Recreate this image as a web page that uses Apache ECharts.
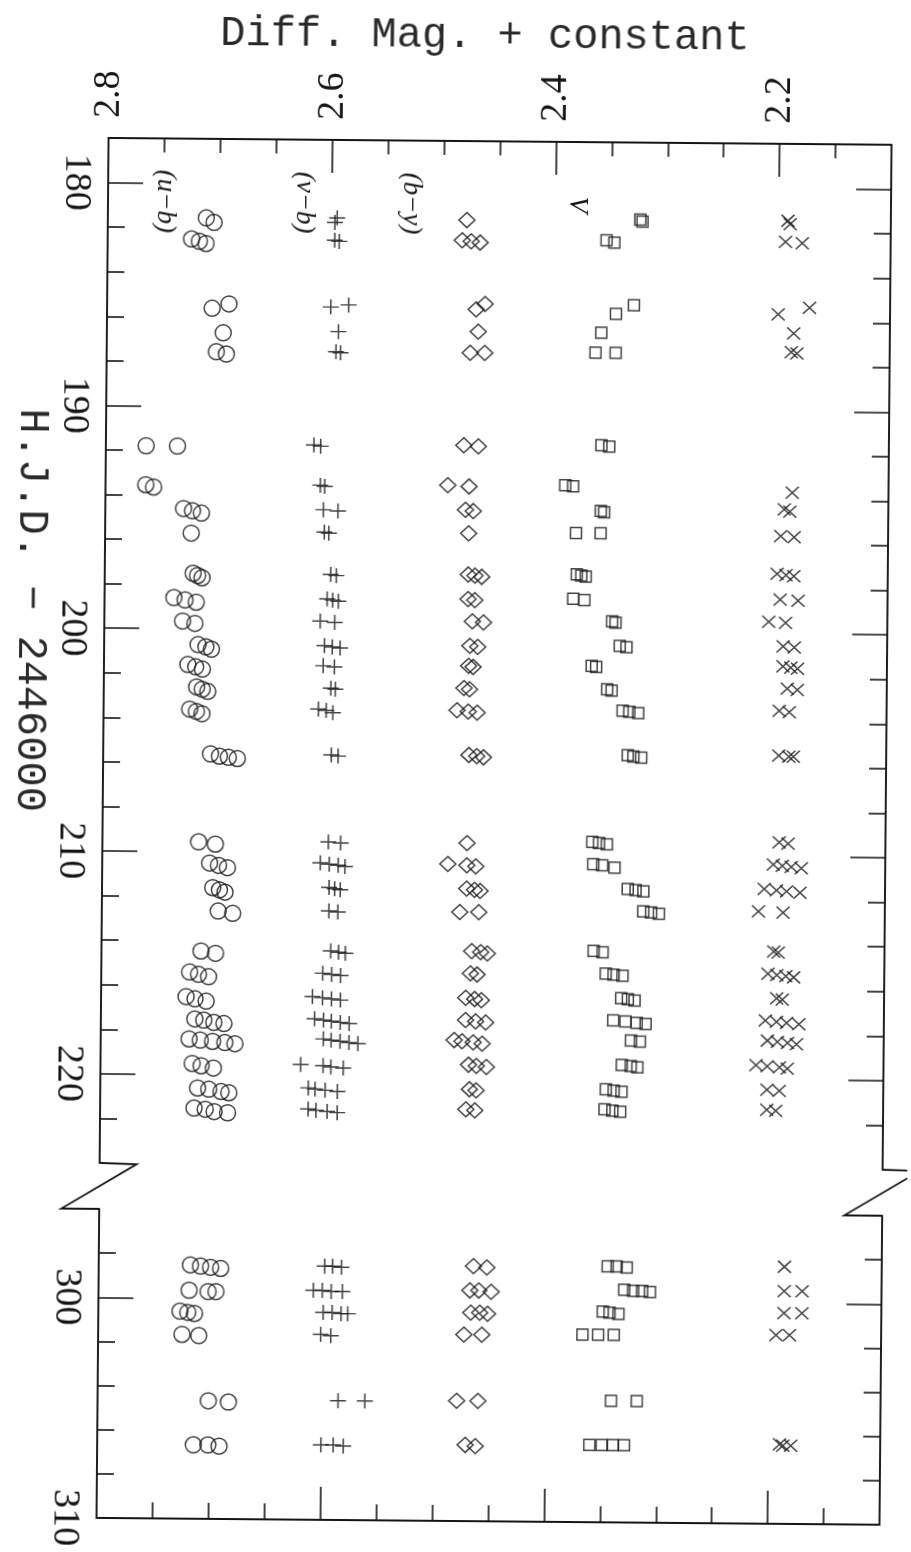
<!DOCTYPE html>
<html>
<head>
<meta charset="utf-8">
<script src="https://cdn.jsdelivr.net/npm/echarts@6/dist/echarts.min.js"></script>
<style>
  html, body { margin: 0; padding: 0; background: #fff; overflow: hidden; }
  #chart { width: 911px; height: 1552px; transform: rotate(0.5deg); transform-origin: 50% 50%; }
</style>
</head>
<body>
<div id="chart"></div>
<script>
// Axis tick labels
const magTickLabels = [2.2, 2.4, 2.6, 2.8];
const dayTickLabelsEarly = [180, 190, 200, 210, 220];
const dayTickLabelsLate = [300, 310];

// Colour-index and magnitude tags drawn beside each column
const seriesTags = ['(u\u2212b)', '(v\u2212b)', '(b\u2212y)', 'V'];
const tagMags = [2.749, 2.625, 2.529, 2.381];
const tagDay = 180.82;

// Observations: [H.J.D. - 2446000, differential magnitude + constant]
const ubObs = [
  [181.55,2.712],[181.75,2.705],
  [182.5,2.725],[182.6,2.718],[182.7,2.712],
  [185.4,2.691],[185.6,2.706],
  [186.7,2.696],
  [187.55,2.702],[187.65,2.693],
  [191.8,2.764],[191.8,2.736],
  [193.55,2.764],[193.65,2.757],
  [194.6,2.73],[194.7,2.722],[194.8,2.714],
  [195.7,2.723],
  [197.5,2.721],[197.6,2.717],[197.7,2.713],
  [198.6,2.738],[198.7,2.728],[198.8,2.718],
  [199.65,2.73],[199.75,2.719],
  [200.7,2.716],[200.8,2.709],[200.9,2.704],
  [201.6,2.725],[201.7,2.718],[201.8,2.712],
  [202.6,2.717],[202.7,2.712],[202.8,2.707],
  [203.6,2.723],[203.7,2.717],[203.8,2.712],
  [205.6,2.704],[205.7,2.696],[205.75,2.688],[205.8,2.68],
  [209.55,2.714],[209.65,2.699],
  [210.5,2.704],[210.6,2.696],[210.7,2.688],
  [211.6,2.701],[211.7,2.695],[211.8,2.69],
  [212.65,2.696],[212.75,2.683],
  [214.45,2.711],[214.55,2.698],
  [215.4,2.721],[215.5,2.713],[215.6,2.704],
  [216.5,2.724],[216.6,2.716],[216.7,2.706],
  [217.5,2.716],[217.55,2.708],[217.65,2.699],[217.7,2.69],
  [218.4,2.721],[218.45,2.711],[218.5,2.7],[218.55,2.689],[218.6,2.68],
  [219.5,2.718],[219.6,2.71],[219.7,2.699],
  [220.6,2.713],[220.65,2.703],[220.75,2.692],[220.8,2.685],
  [221.5,2.716],[221.55,2.706],[221.65,2.698],[221.7,2.686],
  [298.5,2.718],[298.55,2.709],[298.6,2.7],[298.65,2.691],
  [299.65,2.719],[299.7,2.702],[299.7,2.695],
  [300.6,2.727],[300.65,2.72],[300.7,2.714],
  [301.65,2.725],[301.7,2.71],
  [304.65,2.701],[304.7,2.683],
  [306.65,2.714],[306.65,2.701],[306.7,2.691]
];

const vbObs = [
  [181.5,2.595],[181.7,2.597],
  [182.5,2.597],[182.55,2.593],
  [185.4,2.584],[185.5,2.6],
  [186.6,2.593],
  [187.5,2.595],[187.55,2.591],
  [191.7,2.614],[191.75,2.608],
  [193.5,2.608],[193.55,2.604],
  [194.6,2.605],[194.65,2.592],
  [195.6,2.604],[195.65,2.6],
  [197.5,2.598],[197.55,2.593],
  [198.6,2.601],[198.65,2.596],[198.7,2.591],
  [199.6,2.607],[199.65,2.594],
  [200.7,2.603],[200.75,2.596],[200.8,2.589],
  [201.6,2.604],[201.65,2.594],
  [202.6,2.597],[202.65,2.593],
  [203.55,2.608],[203.6,2.601],[203.7,2.595],
  [205.6,2.596],[205.65,2.59],
  [209.5,2.598],[209.55,2.587],
  [210.45,2.605],[210.5,2.597],[210.55,2.589],[210.6,2.583],
  [211.55,2.597],[211.6,2.592],[211.65,2.587],
  [212.6,2.597],[212.65,2.589],
  [214.4,2.595],[214.45,2.588],[214.5,2.582],
  [215.4,2.602],[215.45,2.594],[215.5,2.586],
  [216.45,2.611],[216.5,2.602],[216.55,2.594],[216.6,2.586],
  [217.45,2.609],[217.5,2.601],[217.55,2.594],[217.6,2.586],[217.65,2.578],
  [218.35,2.601],[218.4,2.594],[218.45,2.586],[218.5,2.578],[218.55,2.57],
  [219.5,2.621],[219.55,2.601],[219.6,2.594],[219.65,2.583],
  [220.55,2.614],[220.6,2.608],[220.65,2.599],[220.7,2.588],
  [221.5,2.614],[221.55,2.607],[221.6,2.597],[221.65,2.588],
  [298.5,2.598],[298.5,2.591],[298.55,2.583],
  [299.6,2.608],[299.6,2.6],[299.65,2.592],[299.65,2.582],
  [300.6,2.599],[300.6,2.591],[300.65,2.583],[300.65,2.577],
  [301.6,2.601],[301.65,2.592],
  [304.6,2.585],[304.6,2.561],
  [306.6,2.6],[306.6,2.589],[306.65,2.58]
];

const byObs = [
  [181.55,2.479],
  [182.45,2.483],[182.5,2.475],[182.55,2.467],
  [185.3,2.462],[185.55,2.47],
  [186.55,2.468],
  [187.5,2.475],[187.5,2.462],
  [191.65,2.48],[191.7,2.467],
  [193.45,2.494],[193.5,2.475],
  [194.55,2.478],[194.6,2.471],
  [195.6,2.475],
  [197.45,2.475],[197.5,2.469],[197.55,2.463],
  [198.55,2.475],[198.6,2.469],
  [199.55,2.471],[199.6,2.461],
  [200.65,2.473],[200.7,2.466],
  [201.55,2.474],[201.6,2.47],
  [202.55,2.478],[202.6,2.473],
  [203.55,2.484],[203.6,2.474],[203.65,2.466],
  [205.55,2.473],[205.6,2.466],[205.65,2.46],
  [209.5,2.474],
  [210.45,2.491],[210.5,2.474],[210.55,2.466],
  [211.55,2.474],[211.6,2.467],[211.65,2.462],
  [212.6,2.48],[212.6,2.463],
  [214.35,2.469],[214.4,2.461],[214.45,2.455],
  [215.35,2.47],[215.4,2.464],
  [216.45,2.474],[216.5,2.466],[216.55,2.46],
  [217.45,2.474],[217.5,2.465],[217.55,2.456],
  [218.35,2.484],[218.4,2.477],[218.45,2.467],[218.5,2.459],
  [219.45,2.471],[219.5,2.464],[219.55,2.455],
  [220.55,2.47],[220.6,2.464],
  [221.45,2.473],[221.5,2.465],
  [298.45,2.465],[298.5,2.453],
  [299.55,2.468],[299.55,2.46],[299.6,2.449],
  [300.55,2.467],[300.55,2.459],[300.6,2.452],
  [301.55,2.473],[301.55,2.457],
  [304.55,2.479],[304.55,2.46],
  [306.55,2.471],[306.6,2.462]
];

const vObs = [
  [181.45,2.324],[181.55,2.322],
  [182.4,2.354],[182.5,2.347],
  [185.3,2.329],[185.7,2.345],
  [186.55,2.358],
  [187.45,2.363],[187.45,2.345],
  [191.6,2.357],[191.65,2.35],
  [193.4,2.389],[193.45,2.382],
  [194.55,2.357],[194.6,2.354],
  [195.55,2.379],[195.55,2.357],
  [197.4,2.378],[197.45,2.374],[197.5,2.37],
  [198.5,2.381],[198.55,2.371],
  [199.5,2.346],[199.55,2.343],
  [200.6,2.339],[200.65,2.333],
  [201.5,2.364],[201.55,2.36],
  [202.55,2.35],[202.6,2.346],
  [203.5,2.336],[203.55,2.33],[203.6,2.322],
  [205.5,2.331],[205.55,2.326],[205.6,2.319],
  [209.4,2.362],[209.45,2.356],[209.5,2.349],
  [210.4,2.361],[210.45,2.353],[210.55,2.342],
  [211.5,2.33],[211.55,2.323],[211.6,2.316],
  [212.5,2.316],[212.55,2.309],[212.6,2.302],
  [214.3,2.36],[214.35,2.352],
  [215.3,2.349],[215.35,2.342],[215.4,2.334],
  [216.4,2.335],[216.45,2.329],[216.5,2.323],
  [217.4,2.342],[217.45,2.331],[217.5,2.321],[217.55,2.313],
  [218.3,2.326],[218.35,2.318],
  [219.4,2.334],[219.45,2.326],[219.5,2.32],
  [220.5,2.348],[220.55,2.341],[220.6,2.334],
  [221.4,2.349],[221.45,2.342],[221.5,2.335],
  [298.4,2.345],[298.4,2.337],[298.45,2.328],
  [299.45,2.33],[299.5,2.322],[299.5,2.314],[299.55,2.307],
  [300.45,2.349],[300.5,2.343],[300.55,2.335],
  [301.5,2.367],[301.5,2.353],[301.5,2.339],
  [304.5,2.341],[304.5,2.318],
  [306.5,2.36],[306.5,2.349],[306.5,2.339],[306.5,2.329]
];

const compObs = [
  [181.45,2.192],[181.6,2.19],
  [182.4,2.194],[182.45,2.179],
  [185.35,2.172],[185.65,2.2],
  [186.5,2.186],
  [187.35,2.188],[187.4,2.183],
  [193.65,2.186],
  [194.4,2.193],[194.5,2.188],
  [195.6,2.196],[195.65,2.184],
  [197.3,2.199],[197.35,2.191],[197.4,2.184],
  [198.45,2.196],[198.5,2.18],
  [199.45,2.206],[199.5,2.191],
  [200.55,2.193],[200.6,2.183],
  [201.45,2.193],[201.5,2.186],[201.55,2.18],
  [202.45,2.189],[202.5,2.18],
  [203.45,2.196],[203.5,2.187],
  [205.45,2.196],[205.5,2.187],[205.5,2.183],
  [209.35,2.195],[209.4,2.187],
  [210.35,2.2],[210.4,2.192],[210.45,2.184],[210.5,2.175],
  [211.45,2.208],[211.5,2.197],[211.55,2.188],[211.6,2.176],
  [212.45,2.213],[212.5,2.191],
  [214.25,2.199],[214.3,2.195],
  [215.25,2.204],[215.3,2.196],[215.35,2.188],[215.4,2.181],
  [216.35,2.196],[216.4,2.191],
  [217.35,2.206],[217.4,2.196],[217.45,2.187],[217.5,2.176],
  [218.25,2.204],[218.3,2.195],[218.35,2.186],[218.4,2.178],
  [219.35,2.214],[219.4,2.204],[219.45,2.193],[219.5,2.186],
  [220.45,2.204],[220.5,2.193],
  [221.35,2.204],[221.4,2.196],
  [298.35,2.187],
  [299.45,2.187],[299.45,2.171],
  [300.45,2.187],[300.45,2.171],
  [301.45,2.194],[301.45,2.182],
  [306.4,2.19],[306.45,2.187],[306.45,2.18]
];

// ---- layout and styling ----
const ink = '#151515';
const W = 911;
const L = { left: 103, right: 25, topA: 141, hA: 1025, topB: 1212, hB: 309 };
const breakAfter = 260;          // days before this go in the upper panel
const magRange = [2.1, 2.8];
const dayRangeA = [178, 224];
const dayRangeB = [296, 310];

function steps(a, b, s) {
  const out = [];
  for (let v = a; v <= b + 1e-9; v += s) out.push(+v.toFixed(3));
  return out;
}
const magMajor = [2.2, 2.4, 2.6];
const magMinor = steps(2.15, 2.75, 0.05).filter(v => Math.abs(v * 5 - Math.round(v * 5)) > 1e-6);
const dayMajorA = dayTickLabelsEarly;
const dayMinorA = steps(182, 222, 2).filter(v => v % 10 !== 0);
const dayMajorB = [300];
const dayMinorB = steps(298, 308, 2).filter(v => v % 10 !== 0);

const tickLine = { color: ink, width: 1.6 };
const frameLine = { show: true, onZero: false, lineStyle: { color: ink, width: 1.9 } };
const serif = '"Liberation Serif", "Times New Roman", serif';
const mono = '"Liberation Mono", "DejaVu Sans Mono", monospace';

function magAxis(gridIndex, position, ticks, len, withLine, withLabels) {
  const ax = {
    gridIndex, type: 'value', min: magRange[0], max: magRange[1], inverse: true, position,
    axisLine: withLine ? frameLine : { show: false },
    axisTick: { show: true, inside: true, length: len, customValues: ticks, lineStyle: tickLine },
    axisLabel: { show: false },
    splitLine: { show: false }
  };
  if (withLabels) {
    ax.axisLabel = {
      show: true, customValues: magTickLabels, rotate: -90, margin: 20,
      fontFamily: serif, fontSize: 38, color: ink,
      formatter: v => v.toFixed(1)
    };
    ax.name = 'Diff. Mag. + constant';
    ax.nameLocation = 'middle';
    ax.nameGap = 84;
    ax.nameTextStyle = { fontFamily: mono, fontSize: 42, color: '#2a2a2a', padding: [0, 32, 0, 0] };
  }
  return ax;
}

function dayAxis(gridIndex, position, range, ticks, len, withLine, labels) {
  const ax = {
    gridIndex, type: 'value', min: range[0], max: range[1], inverse: true, position,
    axisLine: withLine ? frameLine : { show: false },
    axisTick: { show: true, inside: true, length: len, customValues: ticks, lineStyle: tickLine },
    axisLabel: { show: false },
    splitLine: { show: false }
  };
  if (labels) {
    ax.axisLabel = {
      show: true, customValues: labels, rotate: -90, margin: 13,
      fontFamily: serif, fontSize: 38, color: ink
    };
  }
  return ax;
}

const xAxes = [
  magAxis(0, 'top', magMajor, 33, true, true),
  magAxis(0, 'top', magMinor, 14, false, false),
  magAxis(1, 'bottom', magMajor, 33, true, false),
  magAxis(1, 'bottom', magMinor, 16, false, false)
];
const yAxes = [
  dayAxis(0, 'left', dayRangeA, dayMajorA, 35, true, dayTickLabelsEarly),
  dayAxis(0, 'left', dayRangeA, dayMinorA, 17, false, null),
  dayAxis(0, 'right', dayRangeA, dayMajorA, 35, true, null),
  dayAxis(0, 'right', dayRangeA, dayMinorA, 17, false, null),
  dayAxis(1, 'left', dayRangeB, dayMajorB, 35, true, dayTickLabelsLate),
  dayAxis(1, 'left', dayRangeB, dayMinorB, 17, false, null),
  dayAxis(1, 'right', dayRangeB, dayMajorB, 35, true, null),
  dayAxis(1, 'right', dayRangeB, dayMinorB, 17, false, null)
];

const markerStyle = { color: 'rgba(0,0,0,0)', borderColor: ink, borderWidth: 1.5 };
const plusPath = 'path://M0,5L10,5M5,0L5,10';
const crossPath = 'path://M0,0L10,10M10,0L0,10';
const groups = [
  { name: '(u\u2212b)', obs: ubObs, symbol: 'circle', size: 16 },
  { name: '(v\u2212b)', obs: vbObs, symbol: plusPath, size: [16, 15] },
  { name: '(b\u2212y)', obs: byObs, symbol: 'diamond', size: [16, 15] },
  { name: 'V', obs: vObs, symbol: 'rect', size: [11, 11] },
  { name: 'comparison', obs: compObs, symbol: crossPath, size: [13, 12] }
];

const series = [];
groups.forEach(g => {
  const early = g.obs.filter(o => o[0] < breakAfter).map(o => [o[1], o[0]]);
  const late = g.obs.filter(o => o[0] >= breakAfter).map(o => [o[1], o[0]]);
  [[early, 0, 0], [late, 2, 4]].forEach(([data, xi, yi]) => {
    series.push({
      name: g.name, type: 'scatter', xAxisIndex: xi, yAxisIndex: yi, data,
      symbol: g.symbol, symbolSize: g.size, symbolKeepAspect: false,
      itemStyle: markerStyle, silent: true, emphasis: { disabled: true }
    });
  });
});

// axis-break zigzags on both sides of the frame
const yA = L.topA + L.hA, yB = L.topB;
const xl = L.left, xr = W - L.right;
const zig = x => [[x, yA], [x + 37, yA + 1], [x - 38, yB], [x, yB]];
const breakGraphics = [zig(xl), zig(xr)].map(pts => ({
  type: 'polyline', silent: true,
  shape: { points: pts },
  style: { stroke: ink, lineWidth: 1.8, fill: null }
}));

const chart = echarts.init(document.getElementById('chart'), null, { renderer: 'canvas', width: 911, height: 1552 });
chart.setOption({
  backgroundColor: '#fff',
  animation: false,
  grid: [
    { left: L.left, right: L.right, top: L.topA, height: L.hA, outerBoundsMode: 'none' },
    { left: L.left, right: L.right, top: L.topB, height: L.hB, outerBoundsMode: 'none' }
  ],
  xAxis: xAxes,
  yAxis: yAxes,
  series,
  graphic: breakGraphics
});

// column tags and the time-axis title
const tagGraphics = seriesTags.map((t, i) => {
  const p = chart.convertToPixel({ seriesIndex: 0 }, [tagMags[i], tagDay]);
  return {
    type: 'text', silent: true, x: p[0], y: p[1], rotation: -Math.PI / 2,
    style: { text: t, font: 'italic 27px ' + serif, fill: ink, align: 'center', verticalAlign: 'middle' }
  };
});
tagGraphics.push({
  type: 'text', silent: true, x: 29, y: 614, rotation: -Math.PI / 2,
  style: { text: 'H.J.D. \u2212 2446000', font: '42px ' + mono, fill: '#2a2a2a', align: 'center', verticalAlign: 'middle' }
});
chart.setOption({ graphic: breakGraphics.concat(tagGraphics) });
</script>
</body>
</html>
